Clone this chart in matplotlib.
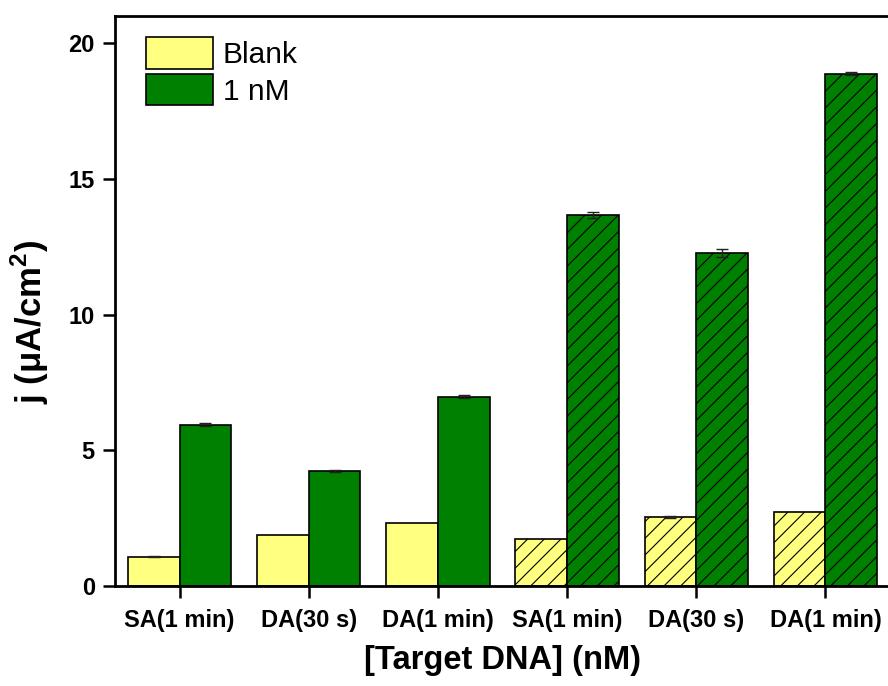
import matplotlib
matplotlib.use("Agg")
import matplotlib.pyplot as plt
import numpy as np

plt.rcParams['font.family'] = ['Liberation Sans', 'DejaVu Sans']
plt.rcParams['hatch.linewidth'] = 0.8
plt.rcParams['mathtext.fontset'] = 'custom'
plt.rcParams['mathtext.rm'] = 'Liberation Sans'
plt.rcParams['mathtext.bf'] = 'Liberation Sans:bold'

categories = ["SA(1 min)", "DA(30 s)", "DA(1 min)", "SA(1 min)", "DA(30 s)", "DA(1 min)"]
blank_vals = [1.08, 1.88, 2.32, 1.72, 2.54, 2.74]
blank_err = [0.02, 0.0, 0.0, 0.0, 0.03, 0.0]
nm_vals = [5.95, 4.23, 6.98, 13.67, 12.28, 18.87]
nm_err = [0.06, 0.03, 0.04, 0.10, 0.15, 0.06]
hatched = [False, False, False, True, True, True]

fig = plt.figure(figsize=(8.88, 6.86), dpi=100)
ax = fig.add_axes([115/888, 1-586/686, 775/888, 570/686])

x = np.arange(1, len(categories) + 1)
w = 0.4
for i in range(len(categories)):
    h = '//' if hatched[i] else None
    ax.bar(x[i] - w/2, blank_vals[i], w, color='#FFFF80', edgecolor='black', linewidth=1.2, hatch=h, zorder=2,
           label='Blank' if i == 0 else None)
    ax.bar(x[i] + w/2, nm_vals[i], w, color='#008000', edgecolor='black', linewidth=1.2, hatch=h, zorder=2,
           label='1 nM' if i == 0 else None)
    if blank_err[i] > 0:
        ax.errorbar(x[i] - w/2, blank_vals[i], yerr=blank_err[i], fmt='none', ecolor='#222222', elinewidth=1, capsize=4, capthick=1, zorder=3)
    ax.errorbar(x[i] + w/2, nm_vals[i], yerr=nm_err[i], fmt='none', ecolor='#222222', elinewidth=1, capsize=4, capthick=1, zorder=3)

ax.set_xlim(0.5, 6.5)
ax.set_ylim(0, 21)
ax.set_xticks(x)
ax.set_xticklabels(categories, fontsize=17, fontweight='bold')
ax.set_yticks([0, 5, 10, 15, 20])
ax.set_yticklabels(['0', '5', '10', '15', '20'], fontsize=17, fontweight='bold')
ax.tick_params(axis='y', direction='out', length=8.5, width=1.8, pad=6)
ax.tick_params(axis='x', direction='out', length=8.5, width=1.8, pad=8)
for s in ax.spines.values():
    s.set_linewidth(2)

ax.set_ylabel(r'j ($\mathbf{\mu}$A/cm$^\mathbf{2}$)', fontsize=25, fontweight='bold', va='center')
ax.yaxis.set_label_coords(-0.11, 0.463)
ax.set_xlabel('[Target DNA] (nM)', fontsize=23.5, fontweight='bold', va='center')
ax.xaxis.set_label_coords(0.5, -0.13)

leg = ax.legend(loc='upper left', bbox_to_anchor=(0.040, 0.963), frameon=False, fontsize=21.5,
                handlelength=2.24, handleheight=1.25, labelspacing=0.16, handletextpad=0.33,
                borderpad=0, borderaxespad=0)

fig.savefig('out.png', dpi=100)
